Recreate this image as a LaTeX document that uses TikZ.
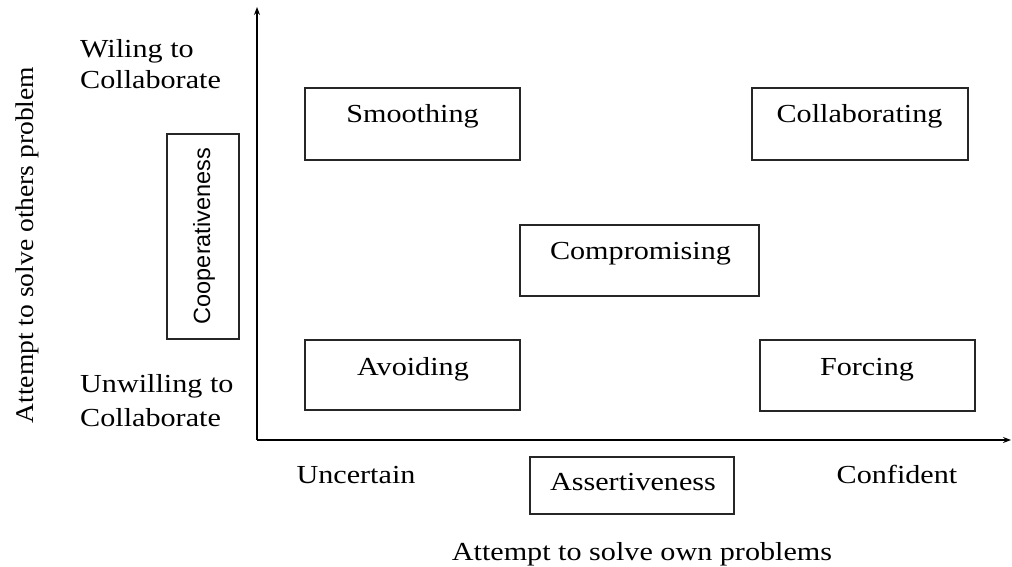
\documentclass[tikz,border=0pt]{standalone}
\usepackage{fontspec}
\setmainfont{Liberation Serif}[FakeStretch=1.16]
\newfontfamily\labelsans{Liberation Sans}
\newfontfamily\sideserif{Liberation Serif}[FakeStretch=1.08]
\usetikzlibrary{arrows.meta}
\begin{document}
\begin{tikzpicture}[x=1pt,y=-1pt,
  frame/.style={draw=black!85,line width=1.3pt,inner sep=0pt},
  word/.style={font=\fontsize{26}{30}\selectfont,inner sep=0pt,anchor=base},
  axis/.style={draw=black,line width=1.2pt,-{Stealth[length=8pt,width=6pt]}}
]
\useasboundingbox (0,0) rectangle (1012,567);

% axes
\coordinate (o) at (257,440);
\coordinate (ytop) at (257,7);
\coordinate (xend) at (1011,440);
\draw[axis] (o) -- (ytop);
\draw[axis] (o) -- (xend);

% style boxes
\node[frame,minimum width=215pt,minimum height=72pt] (smooth) at (412.5,124) {};
\node[frame,minimum width=216pt,minimum height=72pt] (collab) at (860,124) {};
\node[frame,minimum width=239pt,minimum height=71pt] (comp) at (639.5,260.5) {};
\node[frame,minimum width=215pt,minimum height=70pt] (avoid) at (412.5,375) {};
\node[frame,minimum width=215pt,minimum height=71pt] (force) at (867.5,375.5) {};

\node[word] (smootht) at (412.5,123) {Smoothing};
\node[word] (collabt) at (859.5,123) {Collaborating};
\node[word] (compt) at (640.5,259) {Compromising};
\node[word] (avoidt) at (413,375) {Avoiding};
\node[word] (forcet) at (867,375) {Forcing};

% axis name boxes
\node[frame,minimum width=72pt,minimum height=205pt] (coop) at (203,236.5) {};
\node[font=\labelsans\fontsize{23.5}{28}\selectfont,rotate=90,inner sep=0pt] (coopt) at (204,236) {Cooperativeness};
\node[frame,minimum width=204pt,minimum height=57pt] (assert) at (632,485.5) {};
\node[word] (assertt) at (633,490) {Assertiveness};

% axis end labels
\node[word,anchor=base west] (wil1) at (80,58) {Wiling to};
\node[word,anchor=base west] (wil2) at (80,89) {Collaborate};
\node[word,anchor=base west] (unw1) at (80,392) {Unwilling to};
\node[word,anchor=base west] (unw2) at (80,426) {Collaborate};
\node[word] (unc) at (356,483) {Uncertain};
\node[word] (conf) at (897,483) {Confident};

% axis descriptions
\node[font=\sideserif\fontsize{25.5}{30}\selectfont,inner sep=0pt,rotate=90] (others) at (27,245) {Attempt to solve others problem};
\node[word] (own) at (642,560) {Attempt to solve own problems};
\end{tikzpicture}
\end{document}
